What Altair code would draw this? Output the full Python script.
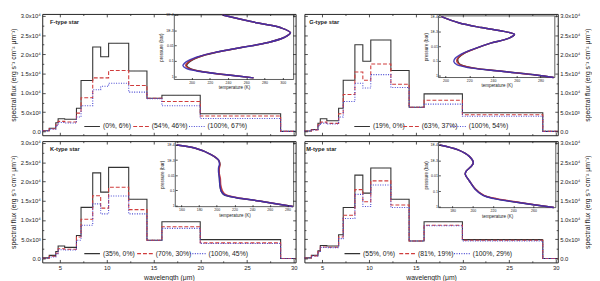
import altair as alt
import pandas as pd

FONT = "Liberation Sans"
INK = "#222222"
W, H = 259, 124

# band edges (micrometres)
edges = [3.1, 3.85, 4.55, 4.8, 5.5, 6.76, 7.25, 8.5, 9.35, 10.2, 12.35, 14.3, 15.9, 20.0, 28.6, 30.2]

# ---- spectral fluxes per band (erg s-1 cm-2 um-1) ----
F_labels = ["(0%, 6%)", "(54%, 46%)", "(100%, 67%)"]
F_solid = [170, 830, 2250, 3300, 3150, 6000, 13200, 21900, 19400, 22900, 15700, 8600, 9400, 4600, 0]
F_red = [150, 670, 1670, 2600, 2450, 4750, 8750, 13900, 13900, 15800, 11900, 8600, 7750, 4000, 0]
F_blue = [130, 580, 1500, 2300, 2200, 3750, 6670, 10800, 11700, 12500, 10200, 8500, 6670, 3330, 0]

G_labels = ["(19%, 0%)", "(63%, 37%)", "(100%, 54%)"]
G_solid = [100, 500, 2100, 3300, 2750, 6000, 13300, 22500, 18200, 23750, 15800, 6250, 9750, 4830, 0]
G_red = [80, 400, 1700, 2400, 2080, 4580, 9580, 15400, 13300, 17500, 12250, 6250, 8080, 4330, 0]
G_blue = [70, 350, 1500, 2150, 1920, 3750, 7750, 12500, 11250, 14750, 11400, 6250, 7080, 3920, 0]

K_labels = ["(35%, 0%)", "(70%, 30%)", "(100%, 45%)"]
K_solid = [170, 830, 1830, 3250, 2900, 6000, 13300, 22250, 17250, 23670, 15400, 4750, 9580, 4920, 0]
K_red = [100, 580, 1400, 2550, 2400, 5600, 10200, 16300, 13100, 18500, 12700, 4750, 8250, 4080, 0]
K_blue = [80, 420, 1250, 2300, 2200, 4750, 8670, 14200, 11600, 16250, 11600, 4750, 7830, 3900, 0]

M_labels = ["(55%, 0%)", "(81%, 19%)", "(100%, 29%)"]
M_solid = [170, 830, 2000, 3400, 3250, 6170, 13250, 21670, 17000, 23500, 15400, 4580, 9580, 4920, 0]
M_red = [150, 700, 1800, 3000, 2920, 5580, 11250, 17900, 14750, 20170, 13900, 4580, 8670, 4750, 0]
M_blue = [140, 650, 1700, 2900, 2830, 5170, 10400, 16670, 13500, 19080, 13250, 4580, 8500, 4580, 0]

# ---- inset temperature profiles: pressure (bar) and temperature (K) ----
F_p = [1e-4, 3.4e-4, 6.9e-4, 1.45e-3, 2.95e-3, 6.2e-3, 0.0129, 0.0263, 0.055, 0.115, 0.204, 0.302, 0.49, 0.79, 1.26]
F_T_solid = [234, 273, 298, 308.5, 301.5, 284, 256, 228, 208, 197.5, 194.5, 198, 211, 238, 268]
F_T_red = [234, 273, 298, 308.5, 301.5, 284, 256, 228, 207.5, 196.5, 193.5, 197, 210.5, 238, 268]
F_T_blue = [234, 273, 298, 308.5, 301.5, 284, 256, 227.5, 206, 194, 190.5, 194, 209.5, 238, 268]

G_p = [1e-4, 2.6e-4, 5.5e-4, 1e-3, 1.6e-3, 2.95e-3, 6.2e-3, 0.0145, 0.033, 0.068, 0.11, 0.178, 0.29, 0.51, 0.87, 1.28]
G_T_solid = [196.5, 211, 230, 249, 258, 253, 238, 225, 215, 210.5, 210.5, 212.5, 223, 249, 276, 291]
G_T_red = [196.5, 211, 230, 249, 258, 253, 238, 225, 214.5, 210, 209.5, 212, 222.5, 249, 276, 291]
G_T_blue = [196.5, 211, 230, 249, 258, 253, 238, 224.5, 213.5, 208, 207, 209.5, 221, 248.5, 276, 291]

K_p = [1e-4, 1.6e-4, 4.3e-4, 1e-3, 1.86e-3, 3.2e-3, 6.2e-3, 0.016, 0.044, 0.11, 0.186, 0.30, 0.49, 1.15]
K_T_solid = [154.5, 175, 193.5, 202, 203.5, 202.5, 202.5, 203, 203.5, 205, 208, 222, 248, 286]
K_T_red = [154.5, 175, 193.5, 202, 203.5, 203, 202.5, 204, 204.5, 206.5, 210, 223.5, 248.5, 286]
K_T_blue = [154.5, 175, 193.5, 202, 203, 202, 202, 203, 203.5, 205, 208.5, 222.5, 248, 286]

M_p = [1e-4, 2.1e-4, 5.5e-4, 1.45e-3, 2.6e-3, 4.9e-3, 7.9e-3, 0.0209, 0.0708, 0.186, 0.302, 0.537, 1.15]
M_T_solid = [167, 185.5, 196.5, 200.5, 198, 193.5, 192.5, 196.5, 202.5, 210.5, 221.5, 245, 280]
M_T_red = [167, 185.5, 196.5, 200.5, 198, 193.5, 192.5, 196.5, 202.5, 211, 223.5, 246.5, 280]
M_T_blue = [167, 185.5, 196.5, 200.5, 198, 193.5, 192.5, 196.5, 202, 210, 221, 245, 280]

x_ticks = [5, 10, 15, 20, 25, 30]
x_minor = [7.5, 12.5, 17.5, 22.5, 27.5]
y_ticks = [0, 5000, 10000, 15000, 20000, 25000, 30000]
y_minor = [2500, 7500, 12500, 17500, 22500, 27500]
p_ticks = [1e-4, 1e-3, 0.01, 0.1, 1]

COLORS = ["#333333", "#d03c3c", "#4646d2"]
DASHES = [[1, 0], [4, 2], [1, 1.5]]
INSET_COLORS = ["#222222", "#c43030", "#3a2fb4"]

Y_LABEL_EXPR = ("datum.value == 0 ? '0.0' : (datum.value < 9000 ? format(datum.value/1000, '.1f') + 'x10\u00b3'"
                " : format(datum.value/10000, '.1f') + 'x10\u2074')")
P_LABEL_EXPR = ("datum.value < 0.0005 ? '1E-4' : (datum.value < 0.005 ? '1E-3' : "
                "(datum.value < 0.05 ? '0.01' : (datum.value < 0.5 ? '0.1' : '1')))")


def step_frame(lab, vals):
    rows = [{"wl": edges[i], "flux": v, "series": lab} for i, v in enumerate(vals)]
    rows.append({"wl": edges[-1], "flux": vals[-1], "series": lab})
    return pd.DataFrame(rows)


def tick_axis(orient, values, size):
    return alt.Axis(orient=orient, values=values, labels=False, title=None, domain=False,
                    offset=-size, tickSize=size, grid=False, zindex=1)


def make_panel(name, labels, series, prof_p, prof_T, tdom, pdom, tticks, box, col, row, legend_xs, name_x):
    side = "left" if col == 0 else "right"
    other = "right" if col == 0 else "left"
    bottom = row == 1

    xs_main = alt.Scale(domain=[3.1, 30.2], nice=False, zero=False)
    ys_main = alt.Scale(domain=[-1000, 30500], nice=False, zero=False)

    xax = alt.Axis(orient="bottom", values=x_ticks, labels=bottom,
                   title="wavelength (\u03bcm)" if bottom else None,
                   domain=False, offset=-3, tickSize=3, labelPadding=2, labelFontSize=6,
                   titleFontSize=7, titlePadding=3, grid=False, zindex=1, labelFlush=False)
    yax_kw = dict(orient=side, values=y_ticks, labelExpr=Y_LABEL_EXPR,
                  title="spectral flux (erg s\u207b\u00b9 cm\u207b\u00b2 \u03bcm\u207b\u00b9)",
                  titleAngle=270, domain=False, offset=-3, tickSize=3, labelPadding=2,
                  labelFontSize=6, titleFontSize=7, titlePadding=4, grid=False, zindex=1)
    if side == "right":
        yax_kw["titleBaseline"] = "top"
    yax = alt.Axis(**yax_kw)

    step_layers = []
    for k, (lab, vals) in enumerate(zip(labels, series)):
        leg = alt.Legend(orient="none", legendX=legend_xs[k], legendY=106, direction="horizontal",
                         title=None, labelFontSize=7, labelFont=FONT, labelColor=INK,
                         symbolType="stroke", symbolSize=256, symbolStrokeWidth=1.1,
                         symbolDash=DASHES[k], labelOffset=2, padding=0)
        step_layers.append(
            alt.Chart(step_frame(lab, vals)).mark_line(
                interpolate="step-after", strokeWidth=1.1, strokeDash=DASHES[k]
            ).encode(
                x=alt.X("wl:Q", scale=xs_main, axis=xax if k == 0 else None),
                y=alt.Y("flux:Q", scale=ys_main, axis=yax if k == 0 else None),
                color=alt.Color("series:N", scale=alt.Scale(domain=[lab], range=[COLORS[k]]), legend=leg),
            )
        )

    base = alt.Chart(step_frame(labels[0], series[0])).mark_line(strokeOpacity=0)
    mirror = base.encode(
        x=alt.X("wl:Q", scale=xs_main, axis=tick_axis("top", x_ticks, 3)),
        y=alt.Y("flux:Q", scale=ys_main, axis=tick_axis(other, y_ticks, 3)),
    )
    minor1 = base.encode(
        x=alt.X("wl:Q", scale=xs_main, axis=tick_axis("bottom", x_minor, 1.6)),
        y=alt.Y("flux:Q", scale=ys_main, axis=tick_axis(side, y_minor, 1.6)),
    )
    minor2 = base.encode(
        x=alt.X("wl:Q", scale=xs_main, axis=tick_axis("top", x_minor, 1.6)),
        y=alt.Y("flux:Q", scale=ys_main, axis=tick_axis(other, y_minor, 1.6)),
    )

    x0, x1, y0, y1 = box
    xs_in = alt.Scale(domain=tdom, range=[x0, x1], nice=False, zero=False)
    ys_in = alt.Scale(type="log", domain=pdom, range=[y0, y1], nice=False)
    ixax = alt.Axis(orient="bottom", values=tticks, offset=-(H - y1) - 2, tickSize=2, domain=False,
                    labelFontSize=3.6, labelPadding=1, title="temperature (K)", titleFontSize=4.6,
                    titlePadding=1, grid=False, zindex=2, labelFlush=False)
    iyax = alt.Axis(orient="left", values=p_ticks, labelExpr=P_LABEL_EXPR, offset=-x0 - 2, tickSize=2,
                    domain=False, labelFontSize=3.6, labelPadding=1, title="pressure (bar)",
                    titleFontSize=4.6, titlePadding=2, grid=False, zindex=2, labelFlush=False)
    frame = pd.DataFrame({"t0": [tdom[0]], "t1": [tdom[1]], "p0": [pdom[0]], "p1": [pdom[1]]})
    bg = alt.Chart(frame).mark_rect(fill="white", stroke="#333333", strokeWidth=0.8).encode(
        x=alt.X("t0:Q", scale=xs_in, axis=ixax), x2="t1:Q",
        y=alt.Y("p0:Q", scale=ys_in, axis=iyax), y2="p1:Q",
    )
    prof_layers = []
    for k, Ts in enumerate(prof_T):
        pdf = pd.DataFrame({"T": Ts, "p": prof_p, "idx": list(range(len(Ts)))})
        prof_layers.append(
            alt.Chart(pdf).mark_line(color=INSET_COLORS[k], strokeWidth=1.5,
                                     interpolate="catmull-rom", opacity=0.9).encode(
                x=alt.X("T:Q", scale=xs_in, axis=None),
                y=alt.Y("p:Q", scale=ys_in, axis=None),
                order="idx:Q",
            )
        )

    name_t = alt.Chart(pd.DataFrame({"name": [name]})).mark_text(
        align="left", baseline="middle", fontWeight="bold", fontSize=5.8, font=FONT, color=INK
    ).encode(text="name:N", x=alt.value(name_x), y=alt.value(8))

    return alt.layer(*step_layers, mirror, minor1, minor2, bg, *prof_layers, name_t).resolve_scale(
        x="independent", y="independent", color="independent"
    ).properties(width=W, height=H)


pF = make_panel("F-type star", F_labels, [F_solid, F_red, F_blue], F_p, [F_T_solid, F_T_red, F_T_blue],
                [181, 312], [1e-4, 1.6], [200, 220, 240, 260, 280, 300], (135, 257, 1, 67), 0, 0,
                [42, 92, 149], 8)
pG = make_panel("G-type star", G_labels, [G_solid, G_red, G_blue], G_p, [G_T_solid, G_T_red, G_T_blue],
                [194, 292], [9e-5, 1.3], [200, 220, 240, 260, 280], (137, 256, 2, 65), 1, 0,
                [50, 100, 148], 5)
pK = make_panel("K-type star", K_labels, [K_solid, K_red, K_blue], K_p, [K_T_solid, K_T_red, K_T_blue],
                [153, 287], [6.5e-5, 1.16], [160, 180, 200, 220, 240, 260, 280], (136, 257, 1, 67), 0, 1,
                [42, 96, 150], 8)
pM = make_panel("M-type star", M_labels, [M_solid, M_red, M_blue], M_p, [M_T_solid, M_T_red, M_T_blue],
                [166, 282], [6.5e-5, 1.16], [180, 200, 220, 240, 260], (137, 257, 1, 68), 1, 1,
                [40, 96, 152], 2)

chart = alt.concat(pF, pG, pK, pM, columns=2, spacing=3).resolve_scale(
    color="independent"
).properties(padding=0).configure_view(
    stroke="#222222", strokeWidth=1
).configure_axis(
    labelFont=FONT, titleFont=FONT, labelColor=INK, titleColor=INK, tickColor=INK,
    titleFontWeight="normal", tickWidth=0.8
).configure_text(font=FONT)

chart.save("out.html", embed_options={"renderer": "svg", "actions": False})
